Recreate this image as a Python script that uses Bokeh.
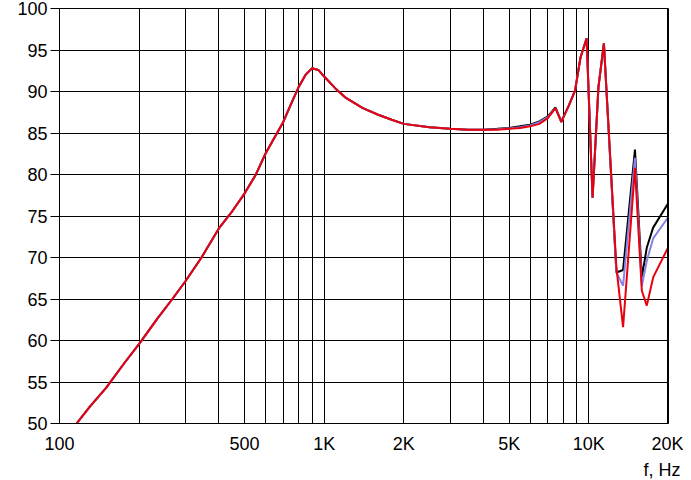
from bokeh.plotting import figure
from bokeh.models import FixedTicker, Span, Title, Range1d
from bokeh.embed import file_html
from bokeh.resources import INLINE

freq = [116, 130, 150, 175, 200, 235, 267, 300, 344, 400, 450, 500, 550, 600, 650, 700,
        750, 800, 850, 900, 950, 1000, 1100, 1200, 1400, 1600, 1800, 2000, 2500, 3000,
        3500, 4000, 4500, 5000, 5500, 6000, 6500, 7000, 7480, 7870, 8400, 8870, 9300,
        9810, 10330, 10870, 11400, 12710, 13470, 14940, 15860, 16560, 17500, 20000]

red = [50.0, 52.0, 54.3, 57.2, 59.6, 62.7, 65.0, 67.2, 70.0, 73.5, 75.6, 77.7, 79.9, 82.5,
       84.5, 86.3, 88.5, 90.5, 92.0, 92.8, 92.6, 91.8, 90.4, 89.3, 88.0, 87.2, 86.6, 86.1,
       85.7, 85.5, 85.4, 85.4, 85.4, 85.5, 85.6, 85.8, 86.1, 86.8, 88.0, 86.3, 88.3, 90.1,
       94.1, 96.4, 77.2, 90.5, 95.8, 68.8, 61.6, 80.8, 66.0, 64.2, 67.6, 71.3]

black = [50.0, 52.0, 54.3, 57.2, 59.6, 62.7, 65.0, 67.2, 70.0, 73.5, 75.6, 77.7, 79.9, 82.5,
         84.5, 86.3, 88.5, 90.5, 92.0, 92.8, 92.6, 91.8, 90.4, 89.3, 88.0, 87.2, 86.6, 86.1,
         85.7, 85.5, 85.4, 85.4, 85.5, 85.6, 85.8, 86.0, 86.4, 87.0, 88.1, 86.4, 88.3, 90.1,
         94.1, 96.4, 77.2, 90.5, 95.8, 68.2, 68.5, 83.0, 67.6, 71.2, 73.6, 76.6]

blue = [50.0, 52.0, 54.3, 57.2, 59.6, 62.7, 65.0, 67.2, 70.0, 73.5, 75.6, 77.7, 79.9, 82.5,
        84.5, 86.3, 88.5, 90.5, 92.0, 92.8, 92.6, 91.8, 90.4, 89.3, 88.0, 87.2, 86.6, 86.1,
        85.7, 85.5, 85.4, 85.4, 85.45, 85.55, 85.7, 85.9, 86.3, 86.9, 88.0, 86.3, 88.3, 90.1,
        94.1, 96.4, 77.2, 90.5, 95.8, 68.2, 66.6, 82.0, 66.6, 69.6, 72.3, 74.9]

x_ticks = [100, 500, 1000, 2000, 5000, 10000, 20000]
x_tick_labels = ["100", "500", "1K", "2K", "5K", "10K", "20K"]
x_grid = [200, 300, 400, 500, 600, 700, 800, 900, 1000, 2000, 3000, 4000, 5000,
          6000, 7000, 8000, 9000, 10000, 20000]
y_ticks = [50, 55, 60, 65, 70, 75, 80, 85, 90, 95, 100]

FONT = "Liberation Sans"

p = figure(x_axis_type="log", output_backend="svg", toolbar_location=None,
           frame_width=609, frame_height=415,
           min_border_left=59, min_border_top=8, min_border_right=15, min_border_bottom=49,
           x_range=Range1d(100, 20000), y_range=Range1d(50, 100))
p.background_fill_color = "white"
p.border_fill_color = "white"
p.outline_line_color = "black"
p.outline_line_width = 1

p.xaxis.ticker = FixedTicker(ticks=x_ticks, minor_ticks=[])
p.xaxis.major_label_overrides = {t: l for t, l in zip(x_ticks, x_tick_labels)}
p.xaxis.major_tick_out = 0
p.xaxis.major_tick_in = 0
p.xaxis.minor_tick_out = 0
p.xaxis.minor_tick_in = 0
p.xaxis.major_label_standoff = 10
p.xaxis.axis_line_color = "black"

p.yaxis.ticker = FixedTicker(ticks=y_ticks, minor_ticks=[])
p.yaxis.major_tick_out = 9
p.yaxis.major_tick_in = 0
p.yaxis.minor_tick_out = 0
p.yaxis.minor_tick_in = 0
p.yaxis.major_label_standoff = 3
p.yaxis.major_tick_line_color = "black"
p.yaxis.axis_line_color = "black"

for ax in (p.xaxis, p.yaxis):
    ax.major_label_text_font = FONT
    ax.major_label_text_font_size = "18px"
    ax.major_label_text_color = "black"

p.xgrid.ticker = FixedTicker(ticks=x_grid)
p.xgrid.grid_line_color = "black"
p.xgrid.grid_line_width = 1
p.ygrid.ticker = FixedTicker(ticks=y_ticks)
p.ygrid.grid_line_color = "black"
p.ygrid.grid_line_width = 1

p.add_layout(Span(location=20000, dimension="height", line_color="black", line_width=3))

p.line(freq, black, line_color="black", line_width=2)
p.line(freq, blue, line_color="#8484e6", line_width=2)
p.line(freq, red, line_color="#e8000c", line_width=2)

p.add_layout(Title(text="f, Hz", align="right", text_font=FONT, text_font_size="18px",
                   text_font_style="normal", text_color="black", offset=-12, standoff=2), "below")

open("out.html", "w").write(file_html(p, INLINE))
